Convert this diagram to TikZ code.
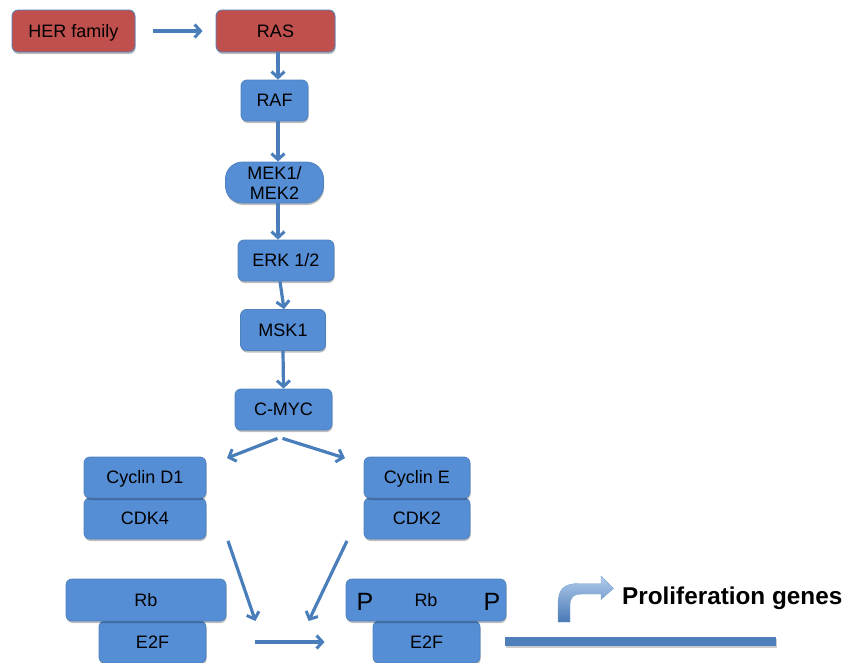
\documentclass[tikz,border=0pt]{standalone}
\usepackage{fontspec}
\setmainfont{Liberation Sans}
\usetikzlibrary{calc,arrows.meta,shadows}
\definecolor{redfill}{HTML}{C0504D}
\definecolor{bluefill}{HTML}{558ED5}
\definecolor{boxline}{HTML}{4F81BD}
\definecolor{arrcol}{HTML}{4A7EBB}
\definecolor{barcol}{HTML}{4F7FBA}
\tikzset{
  box/.style={draw=boxline, line width=0.8pt, fill=bluefill, rounded corners=6pt,
    minimum height=41pt, inner sep=0pt, font=\fontsize{18}{20}\selectfont, align=center,
    text height=12.9pt, text depth=0pt,
    drop shadow={shadow xshift=0.6pt, shadow yshift=-2pt, opacity=0.25, fill=black}},
  redbox/.style={box, fill=redfill},
  arr/.style={draw=arrcol, line width=3.2pt, -{Straight Barb[length=6pt,width=13pt,line width=3pt]}},
  pmark/.style={inner sep=0pt, font=\fontsize{25}{28}\selectfont},
}
\begin{document}
\begin{tikzpicture}[x=1pt,y=-1pt]
\useasboundingbox (0,0) rectangle (843,662);
% top chain
\node[redbox, minimum width=123pt, minimum height=42pt] (her) at (73.5,31) {HER family};
\node[redbox, minimum width=119pt, minimum height=42pt] (ras) at (275.5,31) {RAS};
\node[box, minimum width=98pt, rounded corners=17pt, text height=, text depth=] (mek) at (274.5,182.5) {MEK1/\\[0pt]MEK2};
\node[box, minimum width=67pt] (raf) at (274.5,100.5) {RAF};
\node[box, minimum width=96pt] (erk) at (286,260.5) {ERK 1/2};
\node[box, minimum width=85pt] (msk) at (283,330) {MSK1};
\node[box, minimum width=97pt] (myc) at (283.5,409.5) {C-MYC};
% cyclins
\node[box, minimum width=122pt] (cdk4) at (145,518.5) {CDK4};
\node[box, minimum width=122pt] (cycd) at (145,477.5) {Cyclin D1};
\node[box, minimum width=106pt] (cdk2) at (417,518.5) {CDK2};
\node[box, minimum width=106pt] (cyce) at (417,477.5) {Cyclin E};
% Rb / E2F
\node[box, minimum width=107pt, minimum height=42pt] (e2fa) at (152.5,642) {E2F};
\node[box, minimum width=160pt, minimum height=42pt] (rba) at (146,600) {Rb};
\node[box, minimum width=107pt, minimum height=42pt] (e2fb) at (426.5,642) {E2F};
\node[box, minimum width=160pt, minimum height=42pt] (rbb) at (426,600) {Rb};
\node[pmark] (pl) at (365,602) {P};
\node[pmark] (pr) at (492,602) {P};
% gene bar
\node[fill=barcol, minimum width=271pt, minimum height=9pt, inner sep=0pt,
  drop shadow={shadow xshift=0.5pt, shadow yshift=-1.5pt, opacity=0.2, fill=black}] (gene) at (640.5,641.5) {};
\node[anchor=west, inner sep=0pt, font=\fontsize{24.3}{28}\selectfont\bfseries] (prolif) at (622,598) {Proliferation genes};
% bent arrow
\shade[top color=bluefill!45!white, bottom color=bluefill!85!black, draw=arrcol!70, line width=0.4pt]
  (558,622) -- (558,604) .. controls (558,589) and (564,583.5) .. (579,583.5) -- (601,583.5) -- (601,576)
  -- (613.5,588.5) -- (601,599.5) -- (601,594) -- (583,594) .. controls (573,594) and (570,597) .. (570,606)
  -- (570,622) -- cycle;
% connectors
\draw[arr] (her.east) -- (ras.west) [shorten <=18pt, shorten >=13pt];
\draw[arr] ($(ras.south)+(2.5,0)$) -- ($(raf.north)+(3.5,0)$);
\draw[arr] ($(raf.south)+(3.5,0)$) -- ($(mek.north)+(3.5,0)$);
\draw[arr] ($(mek.south)+(3.5,0)$) -- ($(erk.north)+(-8,0)$);
\draw[arr] ($(erk.south)+(-6,0)$) -- ($(msk.north)+(1,0)$);
\draw[arr] ($(msk.south)+(0,0)$) -- ($(myc.north)+(0,0)$);
\draw[arr] ($(myc.south)+(-6,8)$) -- ($(cycd.north)+(82,1.5)$);
\draw[arr] ($(myc.south)+(-1,8)$) -- ($(cyce.north)+(-72,1.5)$);
\coordinate (ja) at ($(e2fa.east)+(49,-21)$);
\coordinate (jb) at ($(e2fb.west)+(-64,-21)$);
\draw[arr] ($(cdk4.south)+(83,1.5)$) -- (ja);
\draw[arr] ($(cdk2.south)+(-70,1.5)$) -- (jb);
\draw[arr] (e2fa.east) -- (e2fb.west) [shorten <=49pt, shorten >=48pt];
\end{tikzpicture}
\end{document}
